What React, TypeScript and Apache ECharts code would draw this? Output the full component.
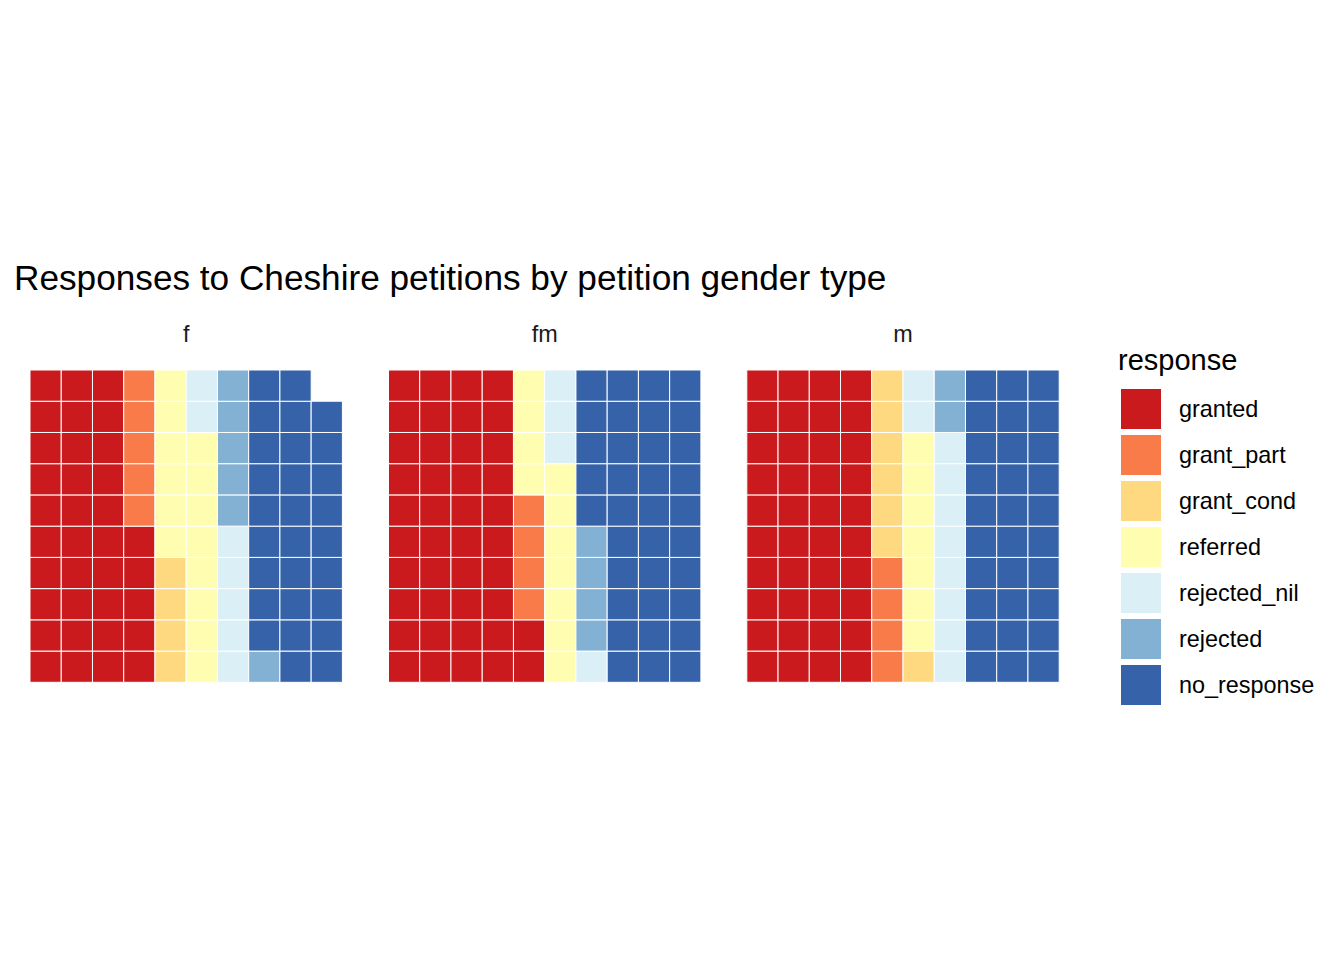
import React, { useEffect, useRef } from "react";
import * as echarts from "echarts";

const responses = ["granted", "grant_part", "grant_cond", "referred", "rejected_nil", "rejected", "no_response"];
const responseColors = ["#CA1A1E", "#F97B4A", "#FED97F", "#FFFDB0", "#DAEFF6", "#82B1D3", "#3562A8"];
const panelNames = ["f", "fm", "m"];
const fCounts = [35, 5, 4, 14, 7, 6, 28];
const fmCounts = [42, 4, 0, 11, 4, 4, 35];
const mCounts = [40, 4, 7, 7, 10, 2, 30];
const panelCounts = [fCounts, fmCounts, mCounts];
const titleText = "Responses to Cheshire petitions by petition gender type";
const legendTitle = "response";

const FONT = "'Liberation Sans', Arial, Helvetica, sans-serif";

function buildCells(counts: number[]): number[][][] {
  const out: number[][][] = [];
  let idx = 0;
  counts.forEach((n) => {
    const list: number[][] = [];
    for (let j = 0; j < n; j++) {
      list.push([Math.floor(idx / 10), idx % 10]);
      idx++;
    }
    out.push(list);
  });
  return out;
}

export default function App() {
  const ref = useRef<HTMLDivElement>(null);
  useEffect(() => {
    document.body.style.margin = "0";
    if (!ref.current) return;
    const chart = echarts.init(ref.current, undefined, { renderer: "svg" });
    const lefts = [30, 388.5, 746.8];
    const gw = 312.4;
    const top = 370;
    const gh = 312.3;
    const grids = lefts.map((l) => ({ left: l, top, width: gw, height: gh }));
    const xAxes = lefts.map((_, i) => ({ type: "value", gridIndex: i, min: -0.5, max: 9.5, show: false }));
    const yAxes = lefts.map((_, i) => ({ type: "value", gridIndex: i, min: -0.5, max: 9.5, show: false }));
    const series: any[] = [];
    panelCounts.forEach((counts, p) => {
      const cells = buildCells(counts);
      responses.forEach((name, k) => {
        const color = responseColors[k];
        series.push({
          type: "custom",
          name,
          xAxisIndex: p,
          yAxisIndex: p,
          itemStyle: { color },
          encode: { x: 0, y: 1 },
          data: cells[k],
          renderItem: (params: any, api: any) => {
            const c = api.coord([api.value(0), api.value(1)]);
            const s = api.size([1, 1]);
            return {
              type: "rect",
              shape: { x: c[0] - s[0] / 2, y: c[1] - s[1] / 2, width: s[0], height: s[1] },
              style: { fill: color, stroke: "#ffffff", lineWidth: 1 },
            };
          },
        });
      });
    });
    const graphic: any[] = [
      {
        type: "text",
        x: 14,
        y: 277,
        style: { text: titleText, font: `35.2px ${FONT}`, fill: "#000", align: "left", verticalAlign: "middle" },
      },
      {
        type: "text",
        x: 1118,
        y: 360,
        style: { text: legendTitle, font: `29px ${FONT}`, fill: "#000", align: "left", verticalAlign: "middle" },
      },
    ];
    panelNames.forEach((nm, i) => {
      graphic.push({
        type: "text",
        x: lefts[i] + gw / 2,
        y: 334,
        style: { text: nm, font: `23.4px ${FONT}`, fill: "#1A1A1A", align: "center", verticalAlign: "middle" },
      });
    });
    chart.setOption({
      animation: false,
      backgroundColor: "#ffffff",
      grid: grids,
      xAxis: xAxes,
      yAxis: yAxes,
      legend: {
        orient: "vertical",
        left: 1116,
        top: 384,
        itemWidth: 40,
        itemHeight: 40,
        itemGap: 6,
        selectedMode: false,
        icon: "rect",
        data: responses.map((name, k) => ({
          name,
          icon: "rect",
          itemStyle: { color: responseColors[k], borderWidth: 0 },
        })),
        textStyle: { fontSize: 23.4, fontFamily: FONT, color: "#000", padding: [0, 0, 0, 13] },
      },
      graphic,
      series,
    });
    return () => chart.dispose();
  }, []);
  return <div ref={ref} style={{ width: 1344, height: 960 }} />;
}
